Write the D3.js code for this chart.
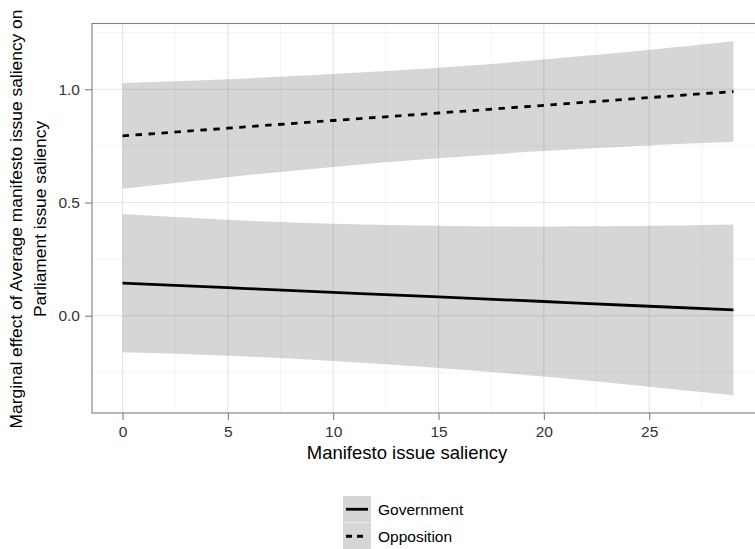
<!DOCTYPE html>
<html><head><meta charset="utf-8">
<script src="https://cdn.jsdelivr.net/npm/d3@7/dist/d3.min.js"></script>
<style>body{margin:0;background:#fff}svg{display:block;font-family:"Liberation Sans",Arial,sans-serif}</style>
</head><body><svg id="c" width="755" height="549"></svg>
<script>
const xs = [0, 5, 10, 15, 20, 25, 29];
const govFit   = [0.144, 0.124, 0.103, 0.083, 0.063, 0.042, 0.026];
const govUpper = [0.449, 0.424, 0.406, 0.397, 0.394, 0.397, 0.403];
const govLower = [-0.161, -0.176, -0.200, -0.231, -0.268, -0.313, -0.351];
const oppFit   = [0.794, 0.828, 0.862, 0.895, 0.929, 0.963, 0.990];
const oppUpper = [1.027, 1.044, 1.067, 1.095, 1.131, 1.174, 1.212];
const oppLower = [0.561, 0.612, 0.657, 0.695, 0.727, 0.752, 0.768];
const xTicks = [0, 5, 10, 15, 20, 25];
const yTicks = [0.0, 0.5, 1.0];
const seriesNames = ["Government", "Opposition"];

const svg = d3.select("#c");
const L = 92, R = 764, T = 23.5, B = 413;
const xmin = d3.min(xs), xmax = d3.max(xs);
const xe = (xmax - xmin) * 0.05;
const allY = govLower.concat(oppUpper, govUpper, oppLower);
const ymin = d3.min(allY), ymax = d3.max(allY), ye = (ymax - ymin) * 0.05;
const x = d3.scaleLinear().domain([xmin - xe, xmax + xe]).range([L, R]);
const y = d3.scaleLinear().domain([ymin - ye, ymax + ye]).range([B, T]);

// grid
const g = svg.append("g");
const xMinor = d3.range(-2.5, 32, 5).filter(v => x(v) > L && x(v) < R);
const yMinor = [-0.25, 0.25, 0.75, 1.25];
g.selectAll(".xm").data(xMinor).join("line").attr("x1", d => x(d)).attr("x2", d => x(d)).attr("y1", T).attr("y2", B).attr("stroke", "#f2f2f2").attr("stroke-width", 0.8);
g.selectAll(".ym").data(yMinor).join("line").attr("y1", d => y(d)).attr("y2", d => y(d)).attr("x1", L).attr("x2", R).attr("stroke", "#f2f2f2").attr("stroke-width", 0.8);
g.selectAll(".xM").data(xTicks).join("line").attr("x1", d => x(d)).attr("x2", d => x(d)).attr("y1", T).attr("y2", B).attr("stroke", "#e5e5e5").attr("stroke-width", 1.1);
g.selectAll(".yM").data(yTicks).join("line").attr("y1", d => y(d)).attr("y2", d => y(d)).attr("x1", L).attr("x2", R).attr("stroke", "#e5e5e5").attr("stroke-width", 1.1);

const area = (lo, hi) => d3.area().x((d, i) => x(xs[i])).y0((d, i) => y(lo[i])).y1((d, i) => y(hi[i])).curve(d3.curveNatural)(xs);
const line = (v) => d3.line().x((d, i) => x(xs[i])).y((d, i) => y(v[i])).curve(d3.curveNatural)(xs);

svg.append("path").attr("d", area(govLower, govUpper)).attr("fill", "#000").attr("fill-opacity", 0.16);
svg.append("path").attr("d", area(oppLower, oppUpper)).attr("fill", "#000").attr("fill-opacity", 0.16);
svg.append("path").attr("d", line(govFit)).attr("fill", "none").attr("stroke", "#000").attr("stroke-width", 2.8);
svg.append("path").attr("d", line(oppFit)).attr("fill", "none").attr("stroke", "#000").attr("stroke-width", 2.8).attr("stroke-dasharray", "6.5,6.5");

// border
svg.append("rect").attr("x", L).attr("y", T).attr("width", R - L).attr("height", B - T).attr("fill", "none").attr("stroke", "#7f7f7f").attr("stroke-width", 1.1);

// axes
const xa = svg.append("g").attr("transform", `translate(0,${B})`).call(d3.axisBottom(x).tickValues(xTicks).tickFormat(d3.format("d")).tickSize(7).tickPadding(5.5));
const ya = svg.append("g").attr("transform", `translate(${L},0)`).call(d3.axisLeft(y).tickValues(yTicks).tickFormat(d3.format(".1f")).tickSize(7).tickPadding(5));
[xa, ya].forEach(a => {
  a.select(".domain").remove();
  a.selectAll(".tick line").attr("stroke", "#7f7f7f").attr("stroke-width", 1.1);
  a.selectAll(".tick text").attr("fill", "#333").style("font-size", "15.5px");
});

// titles
svg.append("text").attr("x", 407).attr("y", 458.5).attr("text-anchor", "middle").style("font-size", "18.5px").text("Manifesto issue saliency");
const yt = svg.append("text").attr("transform", `translate(0,219) rotate(-90)`).attr("text-anchor", "middle").style("font-size", "17.4px");
yt.append("tspan").attr("x", 0).attr("y", 22).text("Marginal effect of Average manifesto issue saliency on");
yt.append("tspan").attr("x", 0).attr("y", 46).text("Parliament issue saliency");

// legend
const kx = 343, kw = 28, kh = 26.5, ky = 496;
seriesNames.forEach((name, i) => {
  const top = ky + i * (kh + 0.5);
  svg.append("rect").attr("x", kx).attr("y", top).attr("width", kw).attr("height", kh).attr("fill", "#d6d6d6");
  svg.append("line").attr("x1", kx + 3).attr("x2", kx + kw - 3).attr("y1", top + kh / 2).attr("y2", top + kh / 2)
    .attr("stroke", "#000").attr("stroke-width", 2.8).attr("stroke-dasharray", i === 1 ? "6,5" : null);
  svg.append("text").attr("x", 378).attr("y", top + kh / 2).attr("dy", "0.36em").style("font-size", "15.5px").text(name);
});
</script></body></html>
